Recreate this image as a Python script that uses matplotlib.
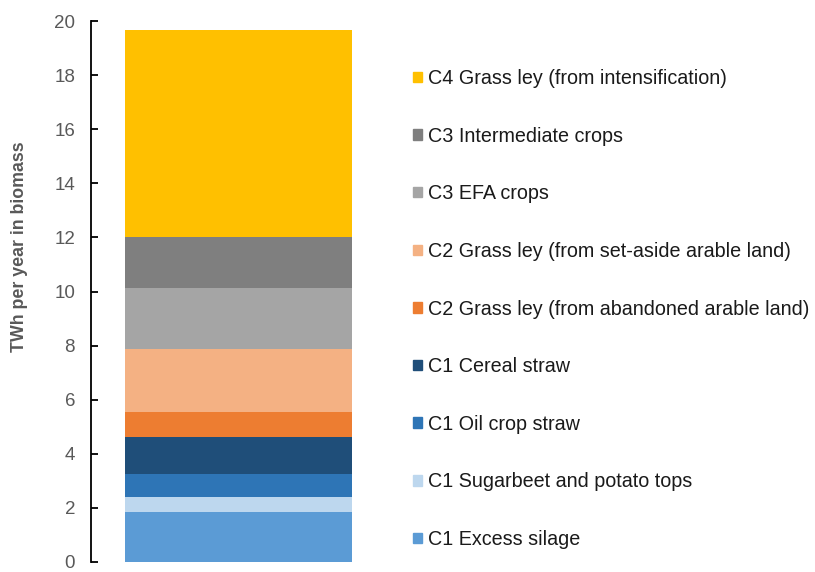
import matplotlib.pyplot as plt
from matplotlib.patches import Patch

plt.rcParams['font.family'] = ['Liberation Sans', 'DejaVu Sans']

# stacked from bottom to top
categories = [
    "C1 Excess silage",
    "C1 Sugarbeet and potato tops",
    "C1 Oil crop straw",
    "C1 Cereal straw",
    "C2 Grass ley (from abandoned arable land)",
    "C2 Grass ley (from set-aside arable land)",
    "C3 EFA crops",
    "C3 Intermediate crops",
    "C4 Grass ley (from intensification)",
]
values = [1.84, 0.58, 0.82, 1.38, 0.93, 2.33, 2.25, 1.89, 7.65]
colors = ["#5B9BD5", "#BDD7EE", "#2E75B6", "#1F4E79", "#ED7D31",
          "#F4B183", "#A5A5A5", "#7F7F7F", "#FFC000"]
yticks = [0, 2, 4, 6, 8, 10, 12, 14, 16, 18, 20]

fig = plt.figure(figsize=(8.15, 5.72), dpi=100)
ax = fig.add_axes([91 / 815, 1 - 562 / 572, 295 / 815, 541 / 572])

bottom = 0
for cat, v, c in zip(categories, values, colors):
    ax.bar(0, v, width=0.77, bottom=bottom, color=c, label=cat)
    bottom += v

ax.set_xlim(-0.5, 0.5)
ax.set_ylim(0, 20)
ax.set_yticks(yticks)
ax.set_xticks([])
for s in ["top", "right", "bottom"]:
    ax.spines[s].set_visible(False)
ax.spines["left"].set_linewidth(1.3)
ax.tick_params(axis="y", direction="in", length=5, width=1.3,
               labelsize=13.5, labelcolor="#595959", pad=11.5)
ax.set_ylabel("TWh per year in biomass", fontsize=12.8, fontweight="bold",
              color="#595959")
ax.yaxis.set_label_coords(-0.215, 0.583)

handles = [Patch(color=c) for c in colors][::-1]
leg = fig.legend(handles, categories[::-1], loc="upper left",
                 bbox_to_anchor=(405 / 815, 1 - 61 / 572),
                 frameon=False, fontsize=14.2, handlelength=0.45,
                 handleheight=0.45, handletextpad=0.3, labelspacing=1.96,
                 borderaxespad=0)
for t in leg.get_texts():
    t.set_color("#1a1a1a")

fig.savefig("out.png", dpi=100)
